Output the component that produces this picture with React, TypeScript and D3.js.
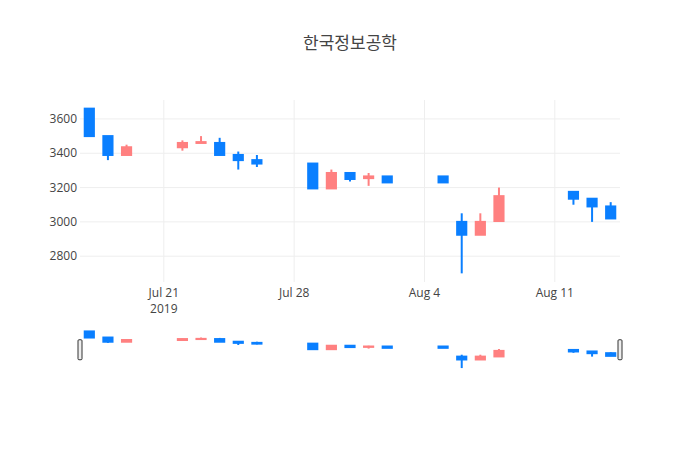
import { useRef, useEffect } from 'react'
import * as d3 from 'd3'

const dates = [
  '2019-07-17', '2019-07-18', '2019-07-19', '2019-07-22', '2019-07-23', '2019-07-24', '2019-07-25',
  '2019-07-26', '2019-07-29', '2019-07-30', '2019-07-31', '2019-08-01', '2019-08-02', '2019-08-05',
  '2019-08-06', '2019-08-07', '2019-08-08', '2019-08-12', '2019-08-13', '2019-08-14',
]
const open = [3660, 3500, 3390, 3435, 3460, 3460, 3390, 3360, 3340, 3195, 3285, 3255, 3265, 3265, 3000, 2925, 3005, 3175, 3135, 3090]
const high = [3660, 3500, 3450, 3475, 3500, 3490, 3410, 3390, 3340, 3305, 3285, 3285, 3265, 3265, 3050, 3050, 3200, 3175, 3135, 3115]
const low = [3500, 3360, 3390, 3415, 3460, 3390, 3305, 3320, 3195, 3195, 3235, 3210, 3230, 3230, 2700, 2925, 3005, 3100, 3000, 3020]
const close = [3500, 3390, 3435, 3460, 3465, 3390, 3360, 3340, 3195, 3285, 3250, 3265, 3230, 3230, 2925, 3000, 3150, 3135, 3090, 3020]

const yTicks = [2800, 3000, 3200, 3400, 3600]
const xTicks = ['2019-07-21', '2019-07-28', '2019-08-04', '2019-08-11']
const xTickLabels = ['Jul 21', 'Jul 28', 'Aug 4', 'Aug 11']

const title = '한국정보공학'
const upColor = '#FF8080'
const downColor = '#0A7FFF'

export default function App() {
  const svgRef = useRef<SVGSVGElement>(null)

  useEffect(() => {
    if (!svgRef.current) return
    const w = 700
    const h = 450
    const left = 80
    const right = 620
    const top = 100
    const mainBottom = 282
    const sliderTop = 329.5
    const sliderBottom = 370
    const font = '"Open Sans", "Noto Sans CJK KR", verdana, arial, sans-serif'

    const svg = d3.select(svgRef.current)
    svg.selectAll('*').remove()
    svg.attr('width', w).attr('height', h)
    svg.append('rect').attr('width', w).attr('height', h).attr('fill', '#fff')

    const parse = d3.utcParse('%Y-%m-%d')
    const t = dates.map((d) => parse(d) as Date)
    const x = d3
      .scaleUtc()
      .domain([d3.utcHour.offset(t[0], -12), d3.utcHour.offset(t[t.length - 1], 12)])
      .range([left, right])

    const lo = d3.min(low) as number
    const hi = d3.max(high) as number
    const pad = (hi - lo) * 0.0525
    const yDomain: [number, number] = [lo - pad, hi + pad]
    const y = d3.scaleLinear().domain(yDomain).range([mainBottom, top])
    const ys = d3.scaleLinear().domain(yDomain).range([sliderBottom, sliderTop])

    const dayPx = x(d3.utcDay.offset(t[0], 1)) - x(t[0])
    const bw = dayPx * 0.6

    // grid
    const g = svg.append('g')
    g.selectAll('line.hg')
      .data(yTicks)
      .join('line')
      .attr('x1', left)
      .attr('x2', right)
      .attr('y1', (d) => y(d))
      .attr('y2', (d) => y(d))
      .attr('stroke', '#eee')
    g.selectAll('line.vg')
      .data(xTicks)
      .join('line')
      .attr('x1', (d) => x(parse(d) as Date))
      .attr('x2', (d) => x(parse(d) as Date))
      .attr('y1', top)
      .attr('y2', mainBottom)
      .attr('stroke', '#eee')

    // y labels
    g.selectAll('text.yl')
      .data(yTicks)
      .join('text')
      .attr('x', left - 3)
      .attr('y', (d) => y(d) + 4.2)
      .attr('text-anchor', 'end')
      .attr('font-family', font)
      .attr('font-size', '12px')
      .attr('fill', '#444')
      .text((d) => String(d))

    // x labels
    g.selectAll('text.xl')
      .data(xTicks)
      .join('text')
      .attr('x', (d) => x(parse(d) as Date))
      .attr('y', 297)
      .attr('text-anchor', 'middle')
      .attr('font-family', font)
      .attr('font-size', '12px')
      .attr('fill', '#444')
      .text((_, i) => xTickLabels[i])
    g.append('text')
      .attr('x', x(parse(xTicks[0]) as Date))
      .attr('y', 312.5)
      .attr('text-anchor', 'middle')
      .attr('font-family', font)
      .attr('font-size', '12px')
      .attr('fill', '#444')
      .text('2019')

    // candles: box with 2px outline in same colour, like plotly
    const drawCandles = (sel: d3.Selection<SVGGElement, unknown, null, undefined>, ys2: d3.ScaleLinear<number, number>) => {
      const c = sel
        .selectAll('g.c')
        .data(t.map((d, i) => ({ d, o: open[i], h: high[i], l: low[i], c: close[i] })))
        .join('g')
      const col = (v: any) => (v.c >= v.o ? upColor : downColor)
      c.append('line')
        .attr('x1', (v) => x(v.d))
        .attr('x2', (v) => x(v.d))
        .attr('y1', (v) => ys2(v.h))
        .attr('y2', (v) => ys2(v.l))
        .attr('stroke', col)
        .attr('stroke-width', 2)
      c.append('rect')
        .attr('x', (v) => x(v.d) - bw / 2 + 1)
        .attr('width', bw - 2)
        .attr('y', (v) => ys2(Math.max(v.o, v.c)))
        .attr('height', (v) => Math.abs(ys2(v.o) - ys2(v.c)))
        .attr('fill', col)
        .attr('stroke', col)
        .attr('stroke-width', 2)
    }

    drawCandles(svg.append('g'), y)

    // range slider
    const sl = svg.append('g')
    sl.append('rect')
      .attr('x', left)
      .attr('y', sliderTop)
      .attr('width', right - left)
      .attr('height', sliderBottom - sliderTop)
      .attr('fill', '#fff')
    drawCandles(sl, ys)
    const mid = (sliderTop + sliderBottom) / 2
    ;[left, right].forEach((px) => {
      sl.append('rect')
        .attr('x', px - 2)
        .attr('y', mid - 10)
        .attr('width', 4)
        .attr('height', 20)
        .attr('rx', 1)
        .attr('fill', '#eee')
        .attr('stroke', '#333')
        .attr('stroke-width', 1)
    })

    // title
    svg
      .append('text')
      .attr('x', w / 2)
      .attr('y', 49)
      .attr('text-anchor', 'middle')
      .attr('font-family', font)
      .attr('font-size', '17px')
      .attr('fill', '#444')
      .text(title)

    return () => {
      svg.selectAll('*').remove()
    }
  }, [])

  return (
    <div style={{ position: 'absolute', left: 0, top: 0 }}>
      <svg ref={svgRef} style={{ display: 'block' }} />
    </div>
  )
}
